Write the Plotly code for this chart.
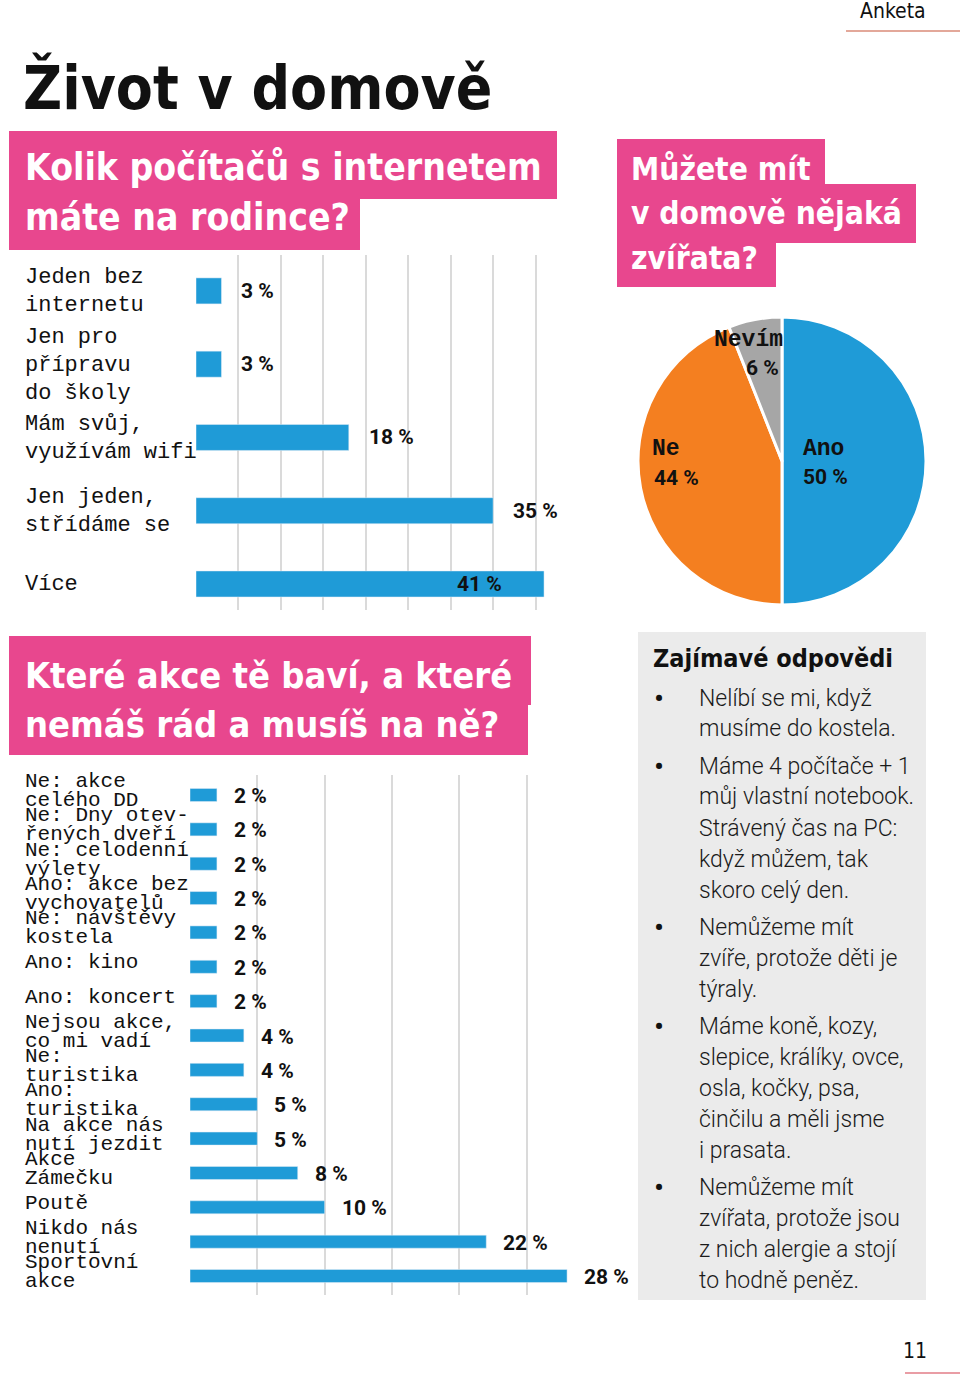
import plotly.graph_objects as go

W, H = 960, 1381


def px(x):
    return x / W


def py(y):
    return 1 - y / H


PINK = "#E8478E"
BLUE = "#1F9BD7"
ORANGE = "#F47F20"
GREY = "#A6A6A6"
GRID = "#DADADA"
INK = "#111111"

COND = "Liberation Sans Narrow, DejaVu Sans Condensed, Roboto, sans-serif"
MONO = "Liberation Mono, Courier New, monospace"
NUM = "Roboto, DejaVu Sans, sans-serif"
BODY = "Roboto, Lato, sans-serif"

# ---------------- data ----------------
pc_categories = ["Jeden bez\ninternetu", "Jen pro\npřípravu\ndo školy",
                 "Mám svůj,\nvyužívám wifi", "Jen jeden,\nstřídáme se", "Více"]
pc_values = [3, 3, 18, 35, 41]

pet_labels = ["Ano", "Ne", "Nevím"]
pet_values = [50, 44, 6]

event_categories = [
    "Ne: akce\ncelého DD", "Ne: Dny otev-\nřených dveří", "Ne: celodenní\nvýlety",
    "Ano: akce bez\nvychovatelů", "Ne: návštěvy\nkostela", "Ano: kino", "Ano: koncert",
    "Nejsou akce,\nco mi vadí", "Ne:\nturistika", "Ano:\nturistika",
    "Na akce nás\nnutí jezdit", "Akce\nZámečku", "Poutě", "Nikdo nás\nnenutí",
    "Sportovní\nakce",
]
event_values = [2, 2, 2, 2, 2, 2, 2, 4, 4, 5, 5, 8, 10, 22, 28]

answers_title = "Zajímavé odpovědi"
answers = [
    ["Nelíbí se mi, když", "musíme do kostela."],
    ["Máme 4 počítače + 1", "můj vlastní notebook.", "Strávený čas na PC:",
     "když můžem, tak", "skoro celý den."],
    ["Nemůžeme mít", "zvíře, protože děti je", "týraly."],
    ["Máme koně, kozy,", "slepice, králíky, ovce,", "osla, kočky, psa,",
     "činčilu a měli jsme", "i prasata."],
    ["Nemůžeme mít", "zvířata, protože jsou", "z nich alergie a stojí",
     "to hodně peněz."],
]

page_title = "Život v domově"
section_label = "Anketa"
page_number = "11"
q1_lines = ["Kolik počítačů s internetem", "máte na rodince?"]
q2_lines = ["Můžete mít", "v domově nějaká", "zvířata?"]
q3_lines = ["Které akce tě baví, a které", "nemáš rád a musíš na ně?"]

# ---------------- figure ----------------
fig = go.Figure()

fig.add_trace(go.Bar(
    x=pc_values, y=pc_categories, orientation="h", marker_color=BLUE,
    width=0.355, xaxis="x", yaxis="y", hoverinfo="skip", showlegend=False,
))
fig.add_trace(go.Bar(
    x=event_values, y=event_categories, orientation="h", marker_color=BLUE,
    width=0.38, xaxis="x2", yaxis="y2", hoverinfo="skip", showlegend=False,
))
fig.add_trace(go.Pie(
    labels=pet_labels, values=pet_values, sort=False, direction="clockwise",
    rotation=0, marker=dict(colors=[BLUE, ORANGE, GREY], line=dict(color="white", width=3)),
    textinfo="none", hoverinfo="skip", showlegend=False,
    domain=dict(x=[px(638), px(926)], y=[py(606), py(316)]),
))

shapes = []
annotations = []


def rect(x0, y0, x1, y1, color):
    shapes.append(dict(type="rect", xref="paper", yref="paper", x0=px(x0), x1=px(x1),
                       y0=py(y1), y1=py(y0), fillcolor=color, line=dict(width=0),
                       layer="below"))


def line(x0, x1, y, color, width=2):
    shapes.append(dict(type="line", xref="paper", yref="paper", x0=px(x0), x1=px(x1),
                       y0=py(y), y1=py(y), line=dict(color=color, width=width)))


def text(x, y, s, size, family, color=INK, weight="normal", xanchor="left"):
    annotations.append(dict(x=px(x), y=py(y), xref="paper", yref="paper", text=s,
                            showarrow=False, xanchor=xanchor, yanchor="middle",
                            font=dict(size=size, family=family, color=color, weight=weight),
                            borderpad=0))


# header
text(893, 11, section_label, 21, COND, xanchor="center")
line(846, 960, 31, "#E3A89A")
text(22, 108 - 0.35 * 60, page_title, 60, COND, weight="bold")

# pink question boxes
rect(9, 131, 557, 199, PINK)
rect(9, 198, 360, 250, PINK)
for i, s in enumerate(q1_lines):
    text(24, 180 + 50 * i - 0.35 * 37, s, 37, COND, color="white", weight="bold")

rect(617, 139, 825, 186, PINK)
rect(617, 184, 916, 243, PINK)
rect(617, 242, 776, 287, PINK)
for i, s in enumerate(q2_lines):
    text(630, 180 + 44.5 * i - 0.35 * 31.5, s, 31.5, COND, color="white", weight="bold")

rect(9, 636, 531, 705, PINK)
rect(9, 704, 528, 755, PINK)
for i, s in enumerate(q3_lines):
    text(24, 688 + 49 * i - 0.35 * 36, s, 36, COND, color="white", weight="bold")


# category labels (left aligned, line by line)
def cat_labels(cats, yref, spacing, offset, size):
    for c in cats:
        parts = c.split("\n")
        n = len(parts)
        for j, p in enumerate(parts):
            dy = (j - (n - 1) / 2) * spacing + offset
            annotations.append(dict(x=px(23), y=c, xref="paper", yref=yref, text=p,
                                    showarrow=False, xanchor="left", yanchor="middle",
                                    yshift=-dy, font=dict(size=size, family=MONO, color=INK)))


cat_labels(pc_categories, "y", 28, 1, 22)
cat_labels(event_categories, "y2", 19, -4, 21)

# value labels
vmax = max(pc_values)
for c, v in zip(pc_categories, pc_values):
    inside = v == vmax
    annotations.append(dict(x=v, y=c, xref="x", yref="y", text=f"{v} %", showarrow=False,
                            xanchor="right" if inside else "left",
                            xshift=-40 if inside else 18, yanchor="middle",
                            font=dict(size=21, family=NUM, color=INK, weight="bold")))
for c, v in zip(event_categories, event_values):
    annotations.append(dict(x=v, y=c, xref="x2", yref="y2", text=f"{v} %", showarrow=False,
                            xanchor="left", xshift=15, yanchor="middle", yshift=-1,
                            font=dict(size=21, family=NUM, color=INK, weight="bold")))

# pie labels (name line + value line)
pie_label_pos = {
    "Ano": ((802, 449), (802, 477), "left"),
    "Ne": ((651, 449), (653, 478), "left"),
    "Nevím": ((748, 340), (762, 368), "center"),
}
for lab, val in zip(pet_labels, pet_values):
    (nx, ny), (vx, vy), anc = pie_label_pos[lab]
    text(nx, ny, lab, 23, MONO, weight="bold", xanchor=anc)
    text(vx, vy, f"{val} %", 21, NUM, weight="bold", xanchor=anc)

# interesting answers box
rect(638, 632, 926, 1300, "#EBEBEB")
text(652, 658, answers_title, 25, COND, weight="bold")
k = 0
for i, item in enumerate(answers):
    for j, s in enumerate(item):
        yy = 698 + 31 * k + 6 * i
        if j == 0:
            text(659, yy, "•", 30, BODY, xanchor="center")
        annotations.append(dict(x=px(697), y=py(yy), xref="paper", yref="paper", text=s,
                                showarrow=False, xanchor="left", yanchor="middle",
                                font=dict(size=23, family=BODY, color="#1A1A1A", weight=300)))
        k += 1

# page number
text(915, 1351, page_number, 21, COND, xanchor="center")
line(905, 960, 1373, "#E99DA5")

axis_common = dict(showticklabels=False, ticks="", zeroline=False, showline=False)
fig.update_layout(
    width=W, height=H, margin=dict(l=0, r=0, t=0, b=0),
    paper_bgcolor="white", plot_bgcolor="white",
    xaxis=dict(domain=[px(196), px(578)], range=[0, 45], dtick=5, tick0=0, showgrid=True,
               gridcolor=GRID, gridwidth=1.5, anchor="y", **axis_common),
    yaxis=dict(domain=[py(610), py(255)], type="category", range=[4.355, -0.49],
               showgrid=False, anchor="x", **axis_common),
    xaxis2=dict(domain=[px(190), px(594)], range=[0, 30], dtick=5, tick0=0, showgrid=True,
                gridcolor=GRID, gridwidth=1.5, anchor="y2", **axis_common),
    yaxis2=dict(domain=[py(1295), py(775)], type="category", range=[14.552, -0.582],
                showgrid=False, anchor="x2", **axis_common),
    shapes=shapes, annotations=annotations,
)

fig.write_html("out.html", config={"displayModeBar": False},
               post_script="document.body.style.margin='0';")
